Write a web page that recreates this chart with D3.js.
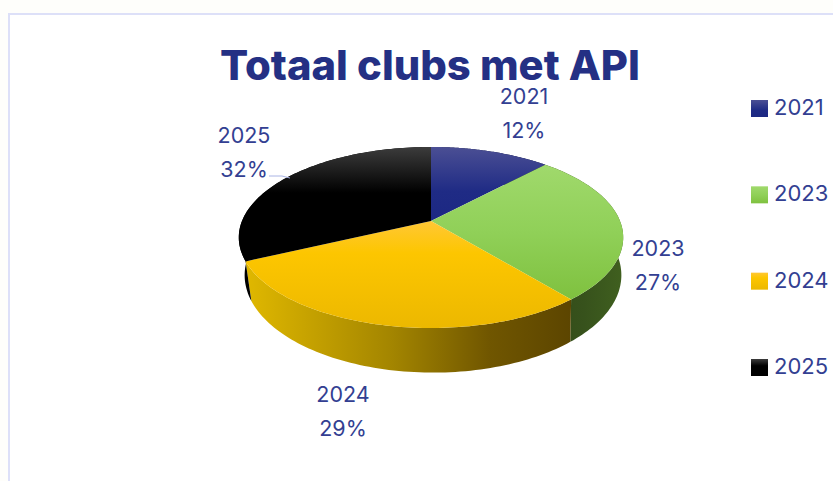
<!DOCTYPE html>
<html><head><meta charset="utf-8">
<script src="https://cdn.jsdelivr.net/npm/d3@7/dist/d3.min.js"></script>
<style>html,body{margin:0;padding:0;background:#fefefb;overflow:hidden}svg{display:block}</style>
</head><body><svg id="c" width="833" height="481"></svg>
<script>
const categories = ["2021","2023","2024","2025"];
const values = [12,27,29,32];
const topStops = [
  [[0,"#4b4f94"],[0.6,"#1f2b85"],[1,"#1c2883"]],
  [[0,"#a0d96c"],[0.5,"#90d058"],[1,"#7fc13f"]],
  [[0,"#ffc735"],[0.3,"#fdc600"],[1,"#ecb800"]],
  [[0,"#3c3c3c"],[0.4,"#000000"],[1,"#000000"]]
];
const sideStops = [
  [[0,"#10163f"],[1,"#10163f"]],
  [[0,"#334a18"],[0.5,"#37521c"],[1,"#40601f"]],
  [[0,"#e0b800"],[0.45,"#a38500"],[0.75,"#705600"],[1,"#5c4500"]],
  [[0,"#000000"],[1,"#000000"]]
];
const titleText = "Totaal clubs met API";
const cardBorder = "#dde0f8", titleColor = "#243084", textColor = "#333f92", leaderColor = "#aab4e4";

const svg = d3.select("#c");
const W = 833, H = 481, cx = 431, cy = 221;
const R = 189, B = 87.5, K = 0.182, D = 36.5, S = 0.98;

svg.append("rect").attr("x",9).attr("y",14).attr("width",W+10).attr("height",H+10)
   .attr("fill","#ffffff").attr("stroke",cardBorder).attr("stroke-width",2);

const defs = svg.append("defs");
function grad(id, stops, horizontal){
  const g = defs.append("linearGradient").attr("id",id)
    .attr("x1",0).attr("y1",0).attr("x2",horizontal?1:0).attr("y2",horizontal?0:1);
  stops.forEach(s => g.append("stop").attr("offset",s[0]).attr("stop-color",s[1]));
}
categories.forEach((c,i)=>{ grad("t"+i, topStops[i], false); grad("s"+i, sideStops[i], true); });

// perspective projection of the pie plane
function proj(a, r, low){
  const u = Math.sin(a)*r, v = -Math.cos(a)*r, w = 1/(1-K*v);
  return low ? [cx + 2 + R*u*w*S, cy + B*v*w + D*w] : [cx + R*u*w, cy + B*v*w];
}
const pie = d3.pie().value(d=>d).sort(null);
const arcs = pie(values);
const line = d3.line();
const samples = (a0,a1) => d3.range(0,81).map(i=>a0+(a1-a0)*i/80);

const chart = svg.append("g");
// walls, back to front (the yellow wall last)
arcs.forEach((d,i)=>{
  const ang = samples(d.startAngle,d.endAngle);
  const pts = ang.map(a=>proj(a,1,false)).concat(ang.slice().reverse().map(a=>proj(a,1,true)));
  chart.append("path").attr("d",line(pts)+"Z").attr("fill",`url(#s${i})`);
});
// top faces
arcs.forEach((d,i)=>{
  const ang = samples(d.startAngle,d.endAngle);
  const pts = [proj(0,0,false)].concat(ang.map(a=>proj(a,1,false)));
  chart.append("path").attr("d",line(pts)+"Z").attr("fill",`url(#t${i})`);
});

const font = "Inter, 'Open Sans', sans-serif";
svg.append("text").attr("x",430).attr("y",80).attr("text-anchor","middle")
  .attr("font-family",font).attr("font-weight",800).attr("font-size",41)
  .attr("textLength",420).attr("lengthAdjust","spacingAndGlyphs")
  .attr("fill",titleColor).text(titleText);

// data labels
const labelPos = [[524,104],[658,256],[343,402],[244,143]];
categories.forEach((c,i)=>{
  const l = svg.append("g").attr("font-family",font).attr("font-size",21.5).attr("fill",textColor).attr("text-anchor","middle");
  l.append("text").attr("x",labelPos[i][0]).attr("y",labelPos[i][1]).text(c);
  l.append("text").attr("x",labelPos[i][0]).attr("y",labelPos[i][1]+34).text(values[i]+"%");
});
svg.append("path").attr("d","M269,176 L282,176 L290,178").attr("fill","none").attr("stroke",leaderColor).attr("stroke-width",1);

// legend
const legendY = d3.scalePoint().domain(categories).range([108.5,367.5]);
categories.forEach((c,i)=>{
  const y = legendY(c);
  svg.append("rect").attr("x",751).attr("y",y-8.5).attr("width",17).attr("height",17).attr("fill",`url(#t${i})`);
  svg.append("text").attr("x",774).attr("y",y+6.5).attr("font-family",font).attr("font-size",22)
    .attr("fill",textColor).text(c);
});
</script></body></html>
